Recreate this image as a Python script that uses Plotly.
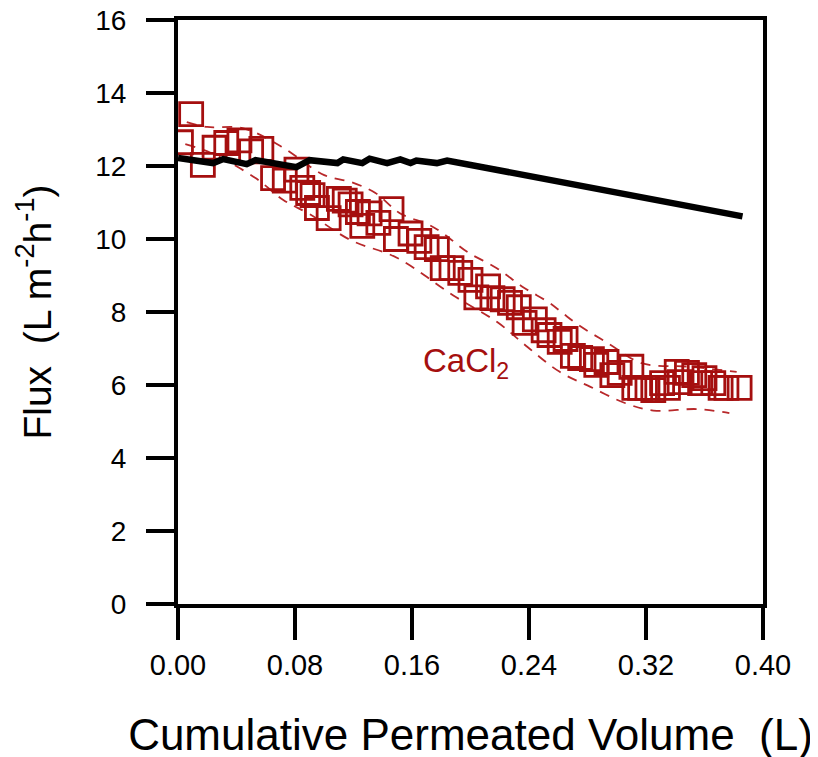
import plotly.graph_objects as go

# CaCl2 flux data (open squares)
cacl2_volume = [0.002, 0.009, 0.017, 0.025, 0.033, 0.042, 0.050, 0.057, 0.065, 0.073,
                0.081, 0.085, 0.089, 0.092, 0.095, 0.103, 0.110, 0.114, 0.118, 0.123,
                0.126, 0.131, 0.137, 0.146, 0.149, 0.159, 0.165, 0.170, 0.177, 0.181,
                0.187, 0.193, 0.200, 0.204, 0.212, 0.215, 0.222, 0.227, 0.233, 0.237,
                0.244, 0.250, 0.254, 0.261, 0.265, 0.270, 0.275, 0.283, 0.286, 0.293,
                0.297, 0.302, 0.310, 0.312, 0.316, 0.321, 0.325, 0.331, 0.335, 0.341,
                0.343, 0.348, 0.353, 0.357, 0.360, 0.366, 0.371, 0.375, 0.384]
cacl2_flux = [12.65, 13.42, 12.03, 12.50, 12.63, 12.70, 12.40, 12.47, 11.67, 11.60,
              11.90, 11.40, 11.26, 11.20, 10.85, 10.57, 11.10, 11.05, 10.95, 10.74,
              10.36, 10.70, 10.44, 10.82, 10.00, 10.15, 9.95, 9.78, 9.72, 9.20,
              9.20, 9.07, 8.88, 8.40, 8.70, 8.38, 8.35, 8.25, 8.13, 7.70,
              7.80, 7.50, 7.37, 7.18, 7.26, 6.80, 6.74, 6.71, 6.55, 6.63,
              6.27, 6.33, 6.50, 5.92, 5.92, 5.92, 5.86, 6.05, 5.92, 6.36,
              6.08, 6.33, 6.27, 6.05, 6.19, 6.05, 5.92, 5.92, 5.92]

# Upper / lower dashed envelopes
upper_volume = [0.006, 0.020, 0.044, 0.070, 0.100, 0.119, 0.135, 0.152, 0.171, 0.181,
                0.198, 0.218, 0.236, 0.254, 0.263, 0.274, 0.295, 0.317, 0.350, 0.382]
upper_flux = [13.20, 13.07, 13.04, 12.55, 11.75, 11.55, 11.26, 10.70, 10.40, 10.16,
              9.64, 9.20, 8.68, 8.25, 7.97, 7.64, 7.12, 6.60, 6.50, 6.36]
lower_volume = [0.005, 0.023, 0.053, 0.072, 0.090, 0.118, 0.150, 0.188, 0.218, 0.239,
                0.261, 0.282, 0.306, 0.325, 0.355, 0.377]
lower_flux = [12.60, 12.35, 11.67, 11.07, 10.68, 9.97, 9.48, 8.46, 7.73, 7.04,
              6.36, 5.95, 5.50, 5.30, 5.34, 5.23]

# Baseline (black line)
base_volume = [0.000, 0.024, 0.031, 0.047, 0.053, 0.081, 0.090, 0.109, 0.113, 0.126,
               0.131, 0.143, 0.152, 0.159, 0.163, 0.177, 0.184, 0.386]
base_flux = [12.22, 12.08, 12.19, 12.05, 12.16, 11.97, 12.16, 12.08, 12.18, 12.08,
             12.20, 12.08, 12.18, 12.08, 12.15, 12.08, 12.15, 10.62]

x_ticks = [0.00, 0.08, 0.16, 0.24, 0.32, 0.40]
x_tick_text = ["0.00", "0.08", "0.16", "0.24", "0.32", "0.40"]
y_ticks = [0, 2, 4, 6, 8, 10, 12, 14, 16]

RED = "#a50f0f"
FONT = "Arial, Liberation Sans, sans-serif"

fig = go.Figure()
fig.add_trace(go.Scatter(x=upper_volume, y=upper_flux, mode="lines",
                         line=dict(color="#b8282a", width=1.8, dash="10px,8px", shape="spline"),
                         showlegend=False, hoverinfo="skip"))
fig.add_trace(go.Scatter(x=lower_volume, y=lower_flux, mode="lines",
                         line=dict(color="#b8282a", width=1.8, dash="10px,8px", shape="spline"),
                         showlegend=False, hoverinfo="skip"))
fig.add_trace(go.Scatter(x=cacl2_volume, y=cacl2_flux, mode="markers",
                         marker=dict(symbol="square-open", size=23, color=RED,
                                     line=dict(color=RED, width=2.8)),
                         showlegend=False))
fig.add_trace(go.Scatter(x=base_volume, y=base_flux, mode="lines",
                         line=dict(color="black", width=6.5),
                         showlegend=False))

fig.add_annotation(x=0.166, y=6.6, xref="x", yref="y", xanchor="left", yanchor="middle",
                   text="CaCl<sub>2</sub>", showarrow=False,
                   font=dict(family=FONT, size=33, color=RED))

fig.update_xaxes(range=[0, 0.40], tickvals=x_ticks, ticktext=x_tick_text,
                 showgrid=False, zeroline=False, automargin=False,
                 showline=True, linecolor="black", linewidth=4, mirror=True,
                 ticks="outside", ticklen=32, tickwidth=4, tickcolor="black",
                 ticklabelstandoff=0, ticklabeloverflow="allow",
                 tickfont=dict(family=FONT, size=29, color="black"),
                 title=dict(text="Cumulative Permeated Volume  (L)",
                            font=dict(family=FONT, size=44, color="black"),
                            standoff=40))
fig.update_yaxes(range=[0, 16], tickvals=y_ticks,
                 showgrid=False, zeroline=False, automargin=False,
                 showline=True, linecolor="black", linewidth=4, mirror=True,
                 ticks="outside", ticklen=28, tickwidth=4, tickcolor="black",
                 ticklabelstandoff=14, ticklabeloverflow="allow",
                 tickfont=dict(family=FONT, size=28, color="black"),
                 title=dict(text="Flux  (L m<sup>-2</sup>h<sup>-1</sup>)",
                            font=dict(family=FONT, size=39, color="black"),
                            standoff=33))

fig.update_layout(width=818, height=757, plot_bgcolor="white", paper_bgcolor="white",
                  margin=dict(l=170, r=63, t=12, b=161), showlegend=False)

fig.write_html("out.html")
